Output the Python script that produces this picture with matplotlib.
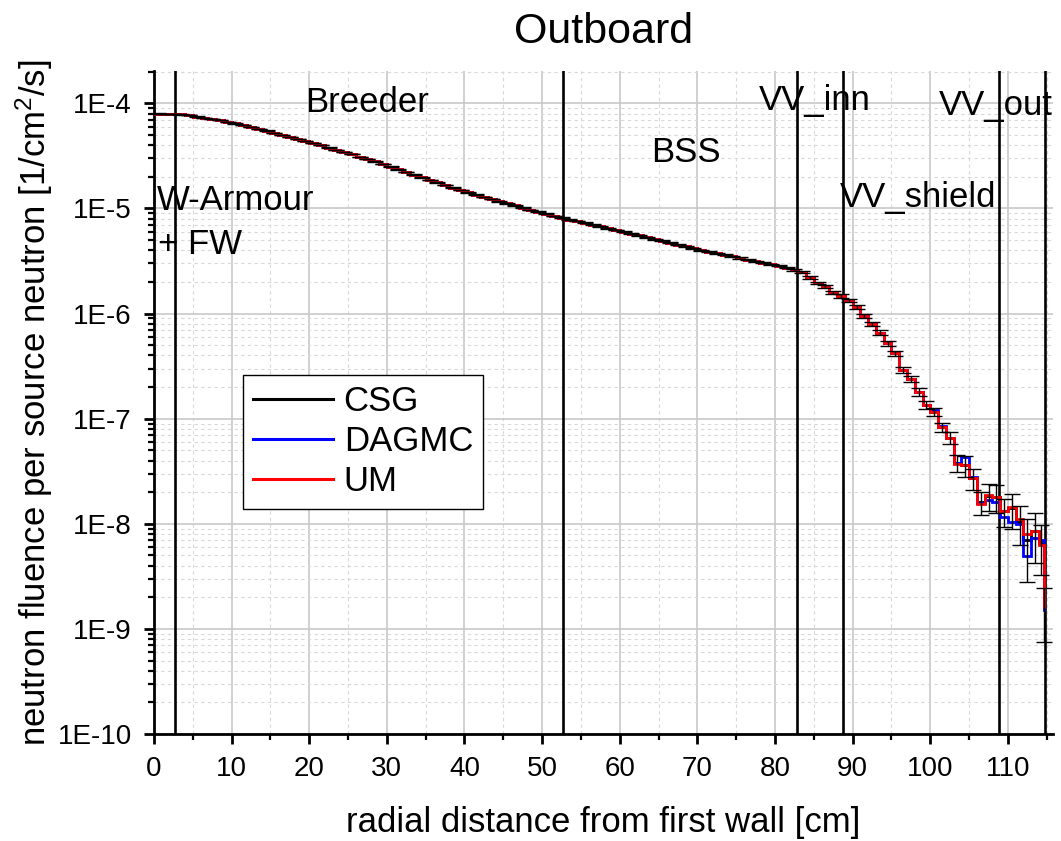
import numpy as np
import matplotlib
matplotlib.use("Agg")
import matplotlib.pyplot as plt
from matplotlib.lines import Line2D
from matplotlib.ticker import FixedLocator, MultipleLocator, LogLocator, FuncFormatter, NullFormatter

plt.rcParams["font.family"] = ["Liberation Sans", "DejaVu Sans"]
plt.rcParams["mathtext.fontset"] = "custom"
plt.rcParams["mathtext.rm"] = "Liberation Sans"
plt.rcParams["mathtext.it"] = "Liberation Sans:italic"
plt.rcParams["mathtext.bf"] = "Liberation Sans:bold"

# Mesh bin edges along the outboard radial line [cm]
bin_edges = list(range(0, 115)) + [114.6, 114.8]

# Neutron fluence per source neutron [1/cm^2/s], one value per bin
csg = [
    8.0e-5, 7.98e-5, 7.93e-5, 7.85e-5, 7.7e-5, 7.5e-5, 7.3e-5, 7.1e-5, 6.9e-5, 6.7e-5,
    6.45e-5, 6.2e-5, 5.95e-5, 5.7e-5, 5.5e-5, 5.25e-5, 5.0e-5, 4.8e-5, 4.6e-5, 4.4e-5,
    4.2e-5, 4.0e-5, 3.8e-5, 3.6e-5, 3.45e-5, 3.28e-5, 3.1e-5, 2.95e-5, 2.8e-5, 2.65e-5,
    2.5e-5, 2.36e-5, 2.22e-5, 2.1e-5, 1.98e-5, 1.87e-5, 1.77e-5, 1.67e-5, 1.58e-5, 1.5e-5,
    1.42e-5, 1.35e-5, 1.29e-5, 1.23e-5, 1.17e-5, 1.12e-5, 1.07e-5, 1.02e-5, 9.7e-6, 9.3e-6,
    8.9e-6, 8.5e-6, 8.15e-6, 7.85e-6, 7.6e-6, 7.3e-6, 7.0e-6, 6.75e-6, 6.5e-6, 6.25e-6,
    6.0e-6, 5.77e-6, 5.55e-6, 5.33e-6, 5.12e-6, 4.92e-6, 4.72e-6, 4.53e-6, 4.35e-6, 4.17e-6,
    4.0e-6, 3.87e-6, 3.75e-6, 3.62e-6, 3.5e-6, 3.38e-6, 3.27e-6, 3.16e-6, 3.05e-6, 2.95e-6,
    2.85e-6, 2.74e-6, 2.62e-6, 2.5e-6, 2.2e-6, 1.95e-6, 1.8e-6, 1.6e-6, 1.47e-6, 1.33e-6,
    1.15e-6, 9.5e-7, 8.0e-7, 6.6e-7, 5.2e-7, 4.2e-7, 2.9e-7, 2.4e-7, 1.8e-7, 1.35e-7,
    1.17e-7, 8.3e-8, 6.6e-8, 3.8e-8, 3.6e-8, 2.7e-8, 1.6e-8, 1.85e-8, 1.8e-8, 1.32e-8,
    1.4e-8, 1.05e-8, 7.0e-9, 8.5e-9, 6.5e-9, 1.6e-9,
]
# the three geometries agree up to 100 cm, only the deep tail differs
um = csg[:100] + [
    1.17e-7, 8.3e-8, 6.6e-8, 3.7e-8, 3.6e-8, 2.7e-8, 1.55e-8, 1.86e-8, 1.8e-8, 1.32e-8,
    1.45e-8, 1.1e-8, 8.0e-9, 8.5e-9, 6.3e-9, 1.6e-9,
]
dagmc = csg[:100] + [
    1.2e-7, 8.5e-8, 6.5e-8, 3.8e-8, 4.3e-8, 2.8e-8, 1.58e-8, 1.7e-8, 1.6e-8, 1.15e-8,
    1.05e-8, 1.0e-8, 4.9e-9, 7.3e-9, 7.0e-9, 1.5e-9,
]
# relative statistical error of the CSG tally
csg_rel_err = [
    0.003, 0.003, 0.003, 0.003, 0.003, 0.003, 0.003, 0.003, 0.003, 0.003,
    0.004, 0.004, 0.004, 0.004, 0.004, 0.004, 0.004, 0.004, 0.004, 0.004,
    0.005, 0.005, 0.005, 0.005, 0.005, 0.005, 0.005, 0.005, 0.005, 0.005,
    0.006, 0.006, 0.006, 0.006, 0.006, 0.006, 0.006, 0.006, 0.006, 0.006,
    0.007, 0.007, 0.007, 0.007, 0.007, 0.007, 0.007, 0.007, 0.007, 0.007,
    0.008, 0.008, 0.008, 0.008, 0.008, 0.008, 0.008, 0.008, 0.008, 0.008,
    0.010, 0.010, 0.010, 0.010, 0.010, 0.010, 0.010, 0.010, 0.010, 0.010,
    0.012, 0.012, 0.012, 0.012, 0.012, 0.012, 0.012, 0.012, 0.012, 0.012,
    0.015, 0.015, 0.02, 0.02, 0.025, 0.025, 0.03, 0.03, 0.035, 0.035,
    0.04, 0.04, 0.05, 0.05, 0.05, 0.06, 0.06, 0.07, 0.08, 0.08,
    0.09, 0.10, 0.12, 0.18, 0.22, 0.22, 0.25, 0.28, 0.30, 0.30,
    0.36, 0.40, 0.60, 0.50, 0.50, 0.53,
]

# component boundaries and region names
boundaries = [2.7, 52.7, 82.8, 88.7, 108.8, 114.8]
region_labels = ["W-Armour", "+ FW", "Breeder", "BSS", "VV_inn", "VV_shield", "VV_out"]
region_x = [0.35, 0.5, 19.5, 64.0, 77.9, 88.4, 101.1]
region_y = [9.6e-6, 3.7e-6, 8.2e-5, 2.75e-5, 8.6e-5, 1.04e-5, 7.7e-5]

x_ticks = [0, 10, 20, 30, 40, 50, 60, 70, 80, 90, 100, 110]
y_ticks = [1e-10, 1e-9, 1e-8, 1e-7, 1e-6, 1e-5, 1e-4]

edges = np.array(bin_edges)
centers = 0.5 * (edges[:-1] + edges[1:])
csg = np.array(csg)

fig = plt.figure(figsize=(10.61, 8.41), dpi=100)
ax = fig.add_axes([0.1451, 0.1272, 0.8473, 0.7883])

ax.stairs(csg, edges, baseline=None, color="black", lw=2.0, zorder=3)
ax.stairs(dagmc, edges, baseline=None, color="#0000ff", lw=2.0, zorder=4)
ax.stairs(um, edges, baseline=None, color="#ff0000", lw=2.0, zorder=5)
ax.errorbar(centers, csg, yerr=csg * np.array(csg_rel_err), fmt="none",
            ecolor="black", elinewidth=1.0, capsize=6, capthick=1.0, zorder=6)

for b in boundaries:
    ax.axvline(b, color="black", lw=1.9, zorder=2)

for txt, tx, ty in zip(region_labels, region_x, region_y):
    ax.text(tx, ty, txt, fontsize=25, ha="left", va="baseline", zorder=7)

ax.set_yscale("log")
ax.set_xlim(0, 115.8)
ax.set_ylim(1e-10, 2.03e-4)

ax.xaxis.set_major_locator(FixedLocator(x_ticks))
ax.xaxis.set_minor_locator(MultipleLocator(5))
ax.yaxis.set_major_locator(FixedLocator(y_ticks))
ax.yaxis.set_minor_locator(LogLocator(base=10, subs=range(2, 10), numticks=30))
ax.yaxis.set_major_formatter(FuncFormatter(lambda v, p: "1E%d" % round(np.log10(v))))
ax.yaxis.set_minor_formatter(NullFormatter())

ax.grid(which="major", color="#c8c8c8", lw=1.2, ls="-", zorder=0)
ax.grid(which="minor", color="#d8d8d8", lw=0.8, ls=(0, (3, 3)), zorder=0)
ax.set_axisbelow(True)

for side in ["top", "right"]:
    ax.spines[side].set_visible(False)
for side in ["left", "bottom"]:
    ax.spines[side].set_linewidth(2.0)

ax.tick_params(which="major", direction="out", length=7, width=2, labelsize=20, pad=9)
ax.tick_params(which="minor", direction="out", length=4, width=1.6)

ax.set_xlabel("radial distance from first wall [cm]", fontsize=25, labelpad=17)
ax.set_ylabel(r"neutron fluence per source neutron [1/cm$^2$/s]", fontsize=25, labelpad=2)
ax.set_title("Outboard", fontsize=31, pad=20)

handles = [
    Line2D([], [], color="black", lw=2.2),
    Line2D([], [], color="#0000ff", lw=2.2),
    Line2D([], [], color="#ff0000", lw=2.2),
]
leg = ax.legend(handles, ["CSG", "DAGMC", "UM"], loc="upper left",
                bbox_to_anchor=(0.099, 0.5415), fontsize=25, frameon=True,
                fancybox=False, framealpha=1, edgecolor="black",
                handlelength=2.3, labelspacing=0.2, borderpad=0.3,
                handletextpad=0.3, borderaxespad=0)
leg.get_frame().set_linewidth(1.0)
leg.set_zorder(10)

fig.savefig("out.png", dpi=100)
